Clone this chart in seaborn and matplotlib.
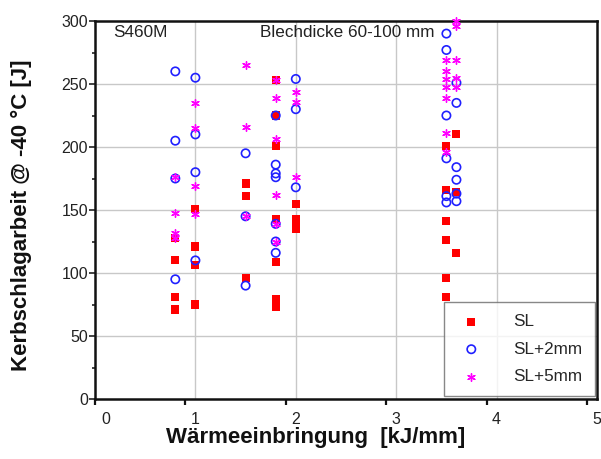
import matplotlib
matplotlib.use("Agg")
import matplotlib.pyplot as plt
import seaborn as sns
import pandas as pd
from matplotlib.ticker import FixedLocator, FixedFormatter

# ---- data (Wärmeeinbringung in kJ/mm, Kerbschlagarbeit in J) ----
sl_x = [0.8, 0.8, 0.8, 0.8,
        1.0, 1.0, 1.0, 1.0,
        1.5, 1.5, 1.5,
        1.8, 1.8, 1.8, 1.8, 1.8, 1.8, 1.8,
        2.0, 2.0, 2.0, 2.0,
        3.5, 3.5, 3.5, 3.5, 3.5, 3.5,
        3.6, 3.6, 3.6]
sl_y = [128, 110, 81, 71,
        151, 121, 106, 75,
        171, 161, 96,
        253, 225, 201, 143, 109, 79, 73,
        155, 143, 138, 135,
        201, 166, 141, 126, 96, 81,
        210, 164, 116]

sl2_x = [0.8, 0.8, 0.8, 0.8,
         1.0, 1.0, 1.0, 1.0,
         1.5, 1.5, 1.5,
         1.8, 1.8, 1.8, 1.8, 1.8, 1.8, 1.8,
         2.0, 2.0, 2.0,
         3.5, 3.5, 3.5, 3.5, 3.5, 3.5,
         3.6, 3.6, 3.6, 3.6, 3.6, 3.6]
sl2_y = [260, 205, 175, 95,
         255, 210, 180, 110,
         195, 145, 90,
         225, 186, 179, 176, 139, 125, 116,
         254, 230, 168,
         290, 277, 225, 191, 161, 156,
         251, 235, 184, 174, 163, 157]

sl5_x = [0.8, 0.8, 0.8, 0.8,
         1.0, 1.0, 1.0, 1.0,
         1.5, 1.5, 1.5,
         1.8, 1.8, 1.8, 1.8, 1.8, 1.8,
         2.0, 2.0, 2.0,
         3.5, 3.5, 3.5, 3.5, 3.5, 3.5, 3.5,
         3.6, 3.6, 3.6, 3.6, 3.6]
sl5_y = [176, 148, 132, 128,
         235, 215, 169, 147,
         265, 216, 145,
         253, 239, 206, 162, 139, 125,
         244, 236, 176,
         269, 260, 254, 248, 239, 211, 196,
         300, 296, 269, 255, 248]

series_labels = ["SL", "SL+2mm", "SL+5mm"]
x_ticklabels = ["0", "1", "2", "3", "4", "5"]
y_ticks = [0, 50, 100, 150, 200, 250, 300]

df = pd.concat([
    pd.DataFrame({"x": sl_x, "y": sl_y, "serie": series_labels[0]}),
    pd.DataFrame({"x": sl2_x, "y": sl2_y, "serie": series_labels[1]}),
    pd.DataFrame({"x": sl5_x, "y": sl5_y, "serie": series_labels[2]}),
], ignore_index=True)

sns.set_theme(style="white")
plt.rcParams["font.family"] = ["Liberation Sans", "DejaVu Sans"]

fig = plt.figure(figsize=(6.01, 4.59), dpi=100)
W, H = 601, 459
ax = fig.add_axes([95 / W, (H - 399) / H, (597 - 95) / W, (399 - 21) / H])

RED = "#ff0000"
BLUE = "#2020ff"
MAG = "#ff00ff"

# gridlines (drawn first)
for gx in [1, 2, 3, 4]:
    ax.axvline(gx, color="#c8c8c8", lw=1.0, zorder=0)
for gy in [50, 100, 150, 200, 250]:
    ax.axhline(gy, color="#c8c8c8", lw=1.0, zorder=0)

d = df[df.serie == series_labels[0]]
sns.scatterplot(data=d, x="x", y="y", marker="s", color=RED, s=34,
                edgecolor="none", linewidth=0, ax=ax, label=series_labels[0],
                clip_on=False, zorder=3)
d = df[df.serie == series_labels[1]]
sns.scatterplot(data=d, x="x", y="y", marker="o", color=BLUE, facecolor="none",
                edgecolor=BLUE, s=36, linewidth=1.2, ax=ax,
                label=series_labels[1], clip_on=False, zorder=4)
d = df[df.serie == series_labels[2]]
sns.scatterplot(data=d, x="x", y="y", marker=(6, 2, 0), color=MAG,
                edgecolor=MAG, s=30, linewidth=1.0, ax=ax,
                label=series_labels[2], clip_on=False, zorder=5)

ax.set_xlim(0, 5.0)
ax.set_ylim(0, 300)

# x axis: labels at gridline positions, tick marks slightly offset
ax.xaxis.set_major_locator(FixedLocator([0.11, 1, 2, 3, 4, 5]))
ax.xaxis.set_major_formatter(FixedFormatter(x_ticklabels))
ax.xaxis.set_minor_locator(FixedLocator([0, 0.9, 1.9, 2.9, 3.9, 4.9]))
ax.tick_params(axis="x", which="major", length=0, pad=9.5, labelsize=11.5,
               colors="#222222")
ax.tick_params(axis="x", which="minor", length=4.5, width=1.6, direction="out",
               color="#111111", bottom=True)

ax.yaxis.set_major_locator(FixedLocator(y_ticks))
ax.yaxis.set_minor_locator(FixedLocator([25, 75, 125, 175, 225, 275]))
ax.tick_params(axis="y", which="major", length=4.5, width=1.2, direction="out",
               pad=0.5, labelsize=11.5, colors="#222222", left=True)
ax.tick_params(axis="y", which="minor", length=2.5, width=1.2, direction="out",
               color="#222222", left=True)

for sp in ax.spines.values():
    sp.set_color("#111111")
    sp.set_linewidth(1.8)
    sp.set_visible(True)
    sp.set_zorder(2.5)

ax.set_xlabel("Wärmeeinbringung  [kJ/mm]", fontsize=16, fontweight="bold",
              color="#111111")
ax.set_ylabel("Kerbschlagarbeit @ -40 °C [J]", fontsize=16,
              fontweight="bold", color="#111111")
ax.xaxis.set_label_coords(0.44, -0.075)
ax.yaxis.set_label_coords(-0.125, 0.487)

ax.text(0.18, 291, "S460M", fontsize=12.3, color="#222222", va="center",
        ha="left")
ax.text(1.64, 291, "Blechdicke 60-100 mm", fontsize=12.3, color="#222222",
        va="center", ha="left")

leg = ax.legend(loc="lower left", bbox_to_anchor=(0.696, 0.008, 0.300, 0.27),
                mode="expand", frameon=True, fancybox=False, fontsize=12.3,
                handlelength=1.75, handletextpad=1.58, labelspacing=0.72,
                borderpad=0.7, borderaxespad=0.0)
leg.get_frame().set_edgecolor("#6a6a6a")
leg.get_frame().set_linewidth(1.0)
leg.set_zorder(6)

fig.savefig("out.png", dpi=100)
